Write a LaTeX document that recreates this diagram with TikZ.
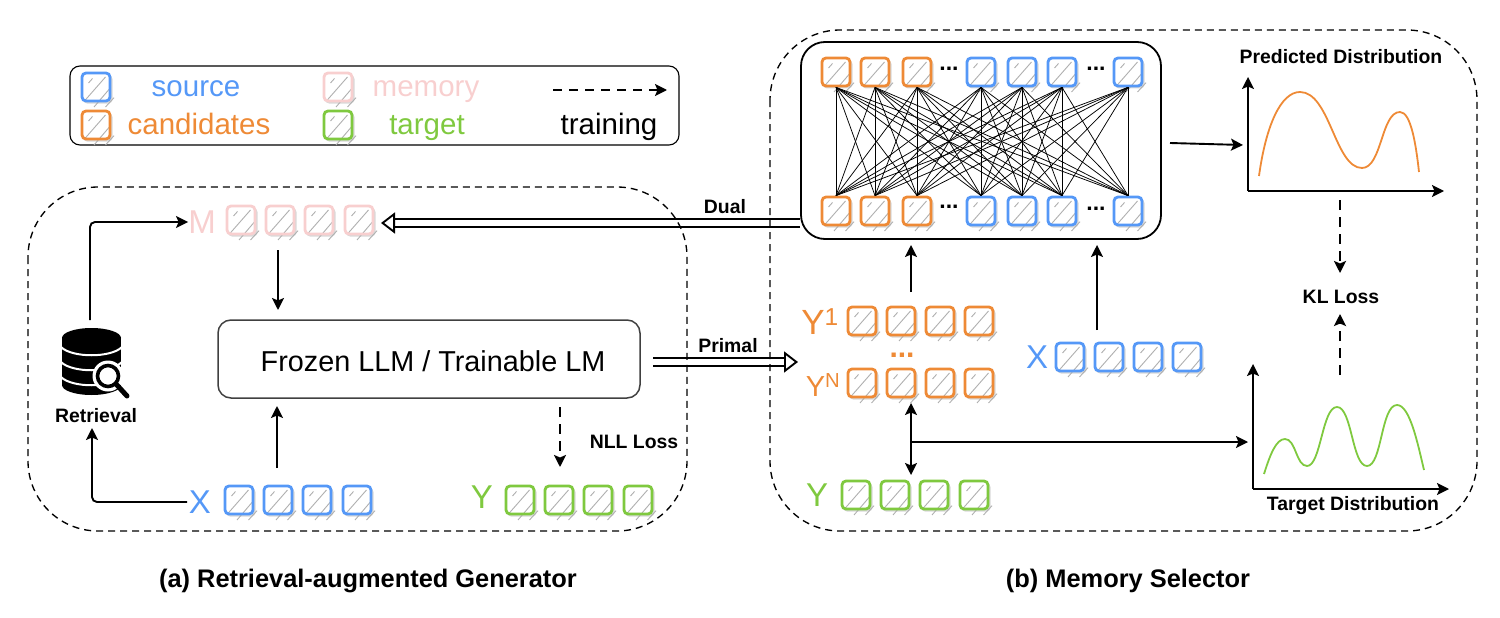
\documentclass[tikz,border=0pt]{standalone}
\usepackage{fontspec}
\setmainfont{Liberation Sans}
\usetikzlibrary{arrows.meta,calc}
\definecolor{srcblue}{HTML}{5598F7}
\definecolor{candorange}{HTML}{EE8A36}
\definecolor{mempink}{HTML}{F8CFCF}
\definecolor{targreen}{HTML}{7FC93F}
\definecolor{hatchgray}{HTML}{B0B0B0}
\tikzset{
  tokenbox/.style={draw=#1,line width=2.8pt,rounded corners=4pt,minimum size=28pt,inner sep=0pt},
  hatchline/.style={draw=hatchgray,line width=0.9pt},
  tip/.style={-{Stealth[length=12pt,width=12pt,inset=2.5pt]}},
  flow/.style={tip,line width=1.9pt,black},
  dashflow/.style={flow,line width=2.9pt,dash pattern=on 10pt off 7pt},
  fatflow/.style={double,double distance=5.5pt,line width=1.9pt,
    -{Triangle[open,length=14pt,width=21pt,line width=1.9pt,fill=white]}},
  frame/.style={draw=black,line width=1.35pt,dash pattern=on 7pt off 5pt,rounded corners=70pt},
  link/.style={draw=black,line width=0.75pt},
  boldlabel/.style={font=\bfseries\fontsize{19.4}{21}\selectfont,text=black,inner sep=0pt},
  seqlabel/.style={font=\fontsize{33}{36}\selectfont,inner sep=0pt},
  legendlabel/.style={font=\fontsize{29.5}{32}\selectfont,inner sep=0pt,anchor=base},
  caption/.style={font=\bfseries\fontsize{25.4}{28}\selectfont,inner sep=0pt},
  axis/.style={tip,line width=1.9pt,black},
  dotsmark/.style={font=\bfseries\fontsize{23}{24}\selectfont,inner sep=0pt},
}
% One token: soft shadow, sketched hatching and a coloured rounded square.
\newcommand{\tokenat}[4]{%
  \fill[black!15,rounded corners=4pt] (#2-13,#3-12) rectangle (#2+16.5,#3+16.5);
  \fill[white,rounded corners=4pt] (#2-14,#3-14) rectangle (#2+14,#3+14);
  \draw[hatchline] (#2-7.5,#3-4)--(#2-3.5,#3-8.5);
  \draw[hatchline] (#2-12,#3+14.5)--(#2+9.5,#3-10);
  \draw[hatchline] (#2-2,#3+20)--(#2+14.5,#3+0.7);
  \draw[hatchline] (#2+9.5,#3+20)--(#2+18,#3+10.7);
  \node[tokenbox=#4] (#1) at (#2,#3) {};
}
\begin{document}
\begin{tikzpicture}[x=1pt,y=-1pt]
\useasboundingbox (0,0) rectangle (1500,618);

% Legend
\draw[line width=1.1pt,rounded corners=10pt] (70,66) rectangle (679,145);
\tokenat{legsrc}{96}{87}{srcblue}
\tokenat{legcand}{96}{125}{candorange}
\tokenat{legmem}{338}{87}{mempink}
\tokenat{legtar}{338}{125}{targreen}
\node[legendlabel,text=srcblue] (txtsrc) at (196,96) {source};
\node[legendlabel,text=candorange] (txtcand) at (199,134) {candidates};
\node[legendlabel,text=mempink] (txtmem) at (426,96) {memory};
\node[legendlabel,text=targreen] (txttar) at (427,134) {target};
\node[legendlabel,text=black] (txttrain) at (609,134) {training};
\coordinate (legA) at (553,90);
\coordinate (legB) at (667,90);
\draw[flow,line width=1.9pt,dash pattern=on 9pt off 7pt] (legA)--(legB);

% Exchange between panels, beneath the dashed panel outlines
\coordinate (dualstart) at (800,223);
\coordinate (dualend) at (381,223);
\draw[fatflow] (dualstart)--(dualend);
\coordinate (primalstart) at (653,362);
\coordinate (primalend) at (798,362);
\draw[fatflow] (primalstart)--(primalend);

% Dashed panels
\draw[frame] (28,187) rectangle (687,531);
\draw[frame] (770,30) rectangle (1477,531);
\node[boldlabel] (dual) at (725,207) {Dual};
\node[boldlabel] (primal) at (728,346) {Primal};

% Left panel: memory row
\node[seqlabel,text=mempink] (mlabel) at (202,222) {M};
\tokenat{m1}{241}{220}{mempink}
\tokenat{m2}{280}{220}{mempink}
\tokenat{m3}{319}{220}{mempink}
\tokenat{m4}{359}{220}{mempink}

% Left panel: generator box
\node[draw=black!75,line width=1.5pt,rounded corners=13pt,minimum width=422pt,minimum height=78pt] (lm) at (429,359) {};
\node[font=\fontsize{28.8}{31}\selectfont,inner sep=0pt] (lmtext) at (433,361) {Frozen LLM / Trainable LM};

% Left panel: source and target rows
\node[seqlabel,text=srcblue] (xlabel) at (200,502) {X};
\tokenat{x1}{239}{500}{srcblue}
\tokenat{x2}{278}{500}{srcblue}
\tokenat{x3}{317}{500}{srcblue}
\tokenat{x4}{357}{500}{srcblue}
\node[seqlabel,text=targreen] (ylabel) at (482,497) {Y};
\tokenat{y1}{520}{500}{targreen}
\tokenat{y2}{559}{500}{targreen}
\tokenat{y3}{598}{500}{targreen}
\tokenat{y4}{638}{500}{targreen}

% Retrieval icon: stacked database with a magnifier
\fill[black] (62,338) rectangle (121,385);
\fill[black] (91.5,338) ellipse[x radius=29.5,y radius=10];
\fill[black] (91.5,385) ellipse[x radius=29.5,y radius=10];
\foreach \yy in {347,362,377}
  \draw[white,line width=2pt] (61,\yy) .. controls (72,\yy+11) and (111,\yy+11) .. (122,\yy);
\fill[white] (108,376) circle[radius=15.5];
\draw[black,line width=3.6pt] (108,376) circle[radius=10.5];
\draw[black,line width=5pt,line cap=round] (116,384)--(127,396);
\node[boldlabel] (retr) at (96,416) {Retrieval};

% Left panel connectors
\coordinate (retrtop) at (90,320);
\coordinate (retrbot) at (92,428);
\coordinate (xleft) at (187,502);
\draw[flow,rounded corners=5pt] (retrtop)--(90,222)--(mlabel.west);
\draw[flow,rounded corners=5pt] (xleft)--(92,502)--(retrbot);
\draw[flow] (278,250)--(278,310);
\draw[flow] (277,468)--(277,406);
\draw[dashflow] (560,407)--(560,467);
\node[boldlabel] (nll) at (634,442) {NLL Loss};

% Right panel: matching network
\node[draw=black,line width=1.8pt,rounded corners=24pt,minimum width=360pt,minimum height=197pt] (net) at (981,140.5) {};
\tokenat{ta}{836}{72}{candorange}
\tokenat{tb}{875}{72}{candorange}
\tokenat{tc}{917}{72}{candorange}
\tokenat{td}{981}{72}{srcblue}
\tokenat{te}{1022}{72}{srcblue}
\tokenat{tf}{1062}{72}{srcblue}
\tokenat{tg}{1128}{72}{srcblue}
\tokenat{ba}{836}{211}{candorange}
\tokenat{bb}{875}{211}{candorange}
\tokenat{bc}{917}{211}{candorange}
\tokenat{bd}{981}{211}{srcblue}
\tokenat{be}{1022}{211}{srcblue}
\tokenat{bf}{1062}{211}{srcblue}
\tokenat{bg}{1128}{211}{srcblue}
\foreach \s in {a,b,c,d,e,f,g}
  \foreach \t in {a,b,c,d,e,f,g}
    \draw[link] (t\s.south)--(b\t.north);
\node[dotsmark] (dots1) at (949,69) {...};
\node[dotsmark] (dots2) at (1096,69) {...};
\node[dotsmark] (dots3) at (949,207) {...};
\node[dotsmark] (dots4) at (1096,209) {...};

% Right panel: candidate, source and target rows
\node[seqlabel,text=candorange,font=\fontsize{35}{36}\selectfont] (y1label) at (820,322) {Y$^{\mathrm{1}}$};
\node[seqlabel,text=candorange,font=\fontsize{29}{30}\selectfont] (yNlabel) at (823,385) {Y\textsuperscript{N}};
\tokenat{ca}{862}{321}{candorange}
\tokenat{cb}{901}{321}{candorange}
\tokenat{cc}{940}{321}{candorange}
\tokenat{cd}{979}{321}{candorange}
\node[dotsmark,text=candorange,font=\bfseries\fontsize{30}{30}\selectfont] (cdots) at (902,355) {...};
\tokenat{da}{862}{383}{candorange}
\tokenat{db}{901}{383}{candorange}
\tokenat{dc}{940}{383}{candorange}
\tokenat{dd}{979}{383}{candorange}
\node[seqlabel,text=srcblue] (x2label) at (1037,357) {X};
\tokenat{xa}{1070}{357}{srcblue}
\tokenat{xb}{1109}{357}{srcblue}
\tokenat{xc}{1148}{357}{srcblue}
\tokenat{xd}{1187}{357}{srcblue}
\node[seqlabel,text=targreen] (y2label) at (817,495) {Y};
\tokenat{ga}{856}{495}{targreen}
\tokenat{gb}{895}{495}{targreen}
\tokenat{gc}{934}{495}{targreen}
\tokenat{gd}{974}{495}{targreen}

% Right panel connectors
\coordinate (cup) at (911,292);
\coordinate (cupend) at (911,245);
\coordinate (xup) at (1097,330);
\coordinate (xupend) at (1097,245);
\draw[flow] (cup)--(cupend);
\draw[flow] (xup)--(xupend);
\coordinate (ctop) at (911,403);
\coordinate (cbot) at (911,475);
\coordinate (branch) at (911,442);
\draw[flow,{Stealth[length=12pt,width=12pt,inset=2.5pt]}-{Stealth[length=12pt,width=12pt,inset=2.5pt]}] (ctop)--(cbot);

% Predicted distribution plot
\node[boldlabel] (predt) at (1341,57) {Predicted Distribution};
\coordinate (po) at (1248,191);
\coordinate (py) at (1248,77);
\coordinate (px) at (1444,191);
\draw[axis] (po)--(py);
\draw[axis] (po)--(px);
\draw[candorange,line width=1.8pt]
  (1259,176) .. controls (1266,125) and (1281,92) .. (1300,92)
  .. controls (1330,92) and (1335,168) .. (1362,168)
  .. controls (1382,168) and (1381,112) .. (1400,112)
  .. controls (1411,112) and (1416,145) .. (1419,172);
\coordinate (netout) at (1170,143);
\coordinate (predin) at (1243,145);
\draw[flow] (netout)--(predin);

% Target distribution plot
\node[boldlabel] (targt) at (1353,506) {Target Distribution};
\coordinate (qo) at (1253,489);
\coordinate (qy) at (1253,364);
\coordinate (qx) at (1449,489);
\draw[axis] (qo)--(qy);
\draw[axis] (qo)--(qx);
\draw[targreen,line width=1.8pt]
  (1264,474) .. controls (1270,455) and (1276,439) .. (1285,439)
  .. controls (1296,439) and (1296,466) .. (1307,466)
  .. controls (1321,466) and (1322,407) .. (1337,407)
  .. controls (1352,407) and (1352,466) .. (1367,466)
  .. controls (1382,466) and (1381,405) .. (1397,405)
  .. controls (1410,405) and (1418,445) .. (1424,470);
\coordinate (targin) at (1248,442);
\draw[flow] (branch)--(targin);

% KL loss
\node[boldlabel] (kl) at (1341,297) {KL Loss};
\coordinate (klA) at (1340,200);
\coordinate (klB) at (1340,273);
\coordinate (klC) at (1340,375);
\coordinate (klD) at (1340,314);
\draw[dashflow] (klA)--(klB);
\draw[dashflow] (klC)--(klD);

% Captions
\node[caption] (capa) at (368,581) {(a) Retrieval-augmented Generator};
\node[caption] (capb) at (1128,581) {(b) Memory Selector};
\end{tikzpicture}
\end{document}
